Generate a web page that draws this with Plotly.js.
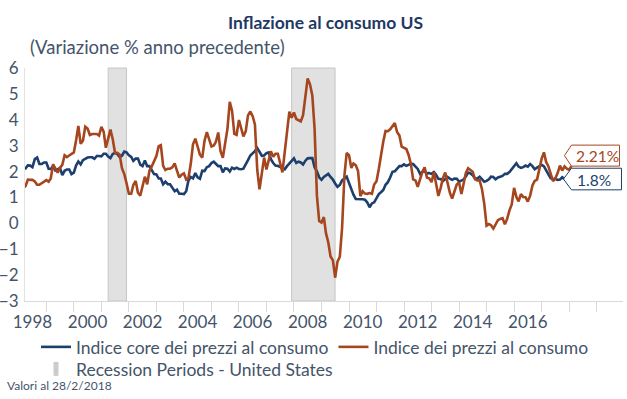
<!DOCTYPE html>
<html>
<head>
<meta charset="utf-8">
<script src="https://cdn.plot.ly/plotly-3.0.1.min.js"></script>
<style>html,body{margin:0;padding:0;background:#fff;}#chart{width:627px;height:399px;}</style>
</head>
<body>
<div id="chart"></div>
<script>
// Monthly data, Jan 1998 - Feb 2018 (YoY %)
const startYear = 1998, startMonth = 1;
const coreCPI = [
 2.24,2.30,2.12,2.12,2.24,2.23,2.17,2.48,2.54,2.29,2.29,2.35,
 2.35,2.11,2.10,2.22,2.04,2.09,2.14,1.86,2.03,2.08,2.08,1.90,
 1.96,2.24,2.39,2.28,2.44,2.49,2.54,2.55,2.55,2.49,2.60,2.60,
 2.59,2.69,2.69,2.58,2.52,2.68,2.72,2.67,2.56,2.61,2.77,2.74,
 2.63,2.57,2.41,2.50,2.50,2.27,2.21,2.43,2.21,2.21,2.05,1.90,
 1.89,1.73,1.73,1.51,1.61,1.51,1.51,1.35,1.24,1.30,1.14,1.14,
 1.13,1.24,1.65,1.79,1.74,1.94,1.78,1.72,2.03,2.02,2.17,2.21,
 2.33,2.38,2.31,2.21,2.21,1.97,2.12,2.11,2.00,2.15,2.10,2.15,
 2.10,2.09,2.11,2.31,2.44,2.62,2.70,2.79,2.91,2.74,2.61,2.62,
 2.71,2.74,2.48,2.33,2.23,2.22,2.18,2.12,2.09,2.21,2.30,2.42,
 2.51,2.33,2.38,2.35,2.27,2.42,2.51,2.52,2.52,2.17,2.01,1.78,
 1.68,1.79,1.84,1.91,1.79,1.69,1.54,1.41,1.48,1.66,1.73,1.80,
 1.56,1.31,1.11,0.94,0.94,0.92,0.93,0.91,0.81,0.62,0.77,0.81,
 0.97,1.13,1.20,1.29,1.49,1.59,1.77,1.99,2.01,2.10,2.21,2.21,
 2.28,2.22,2.27,2.30,2.29,2.19,2.10,1.91,1.99,2.01,1.93,1.94,
 1.91,1.98,1.88,1.72,1.71,1.63,1.70,1.79,1.73,1.68,1.73,1.72,
 1.61,1.64,1.69,1.81,1.96,1.93,1.86,1.73,1.73,1.80,1.71,1.61,
 1.64,1.70,1.80,1.79,1.70,1.77,1.80,1.83,1.91,1.91,1.98,2.09,
 2.21,2.32,2.19,2.14,2.17,2.23,2.19,2.29,2.21,2.09,2.15,2.21,
 2.26,2.20,2.03,1.89,1.74,1.71,1.72,1.68,1.69,1.78,1.71,1.78,
 1.77,1.80
];
const headlineCPI = [
 1.57,1.44,1.37,1.44,1.69,1.68,1.68,1.62,1.49,1.49,1.55,1.61,
 1.67,1.61,1.73,2.28,2.09,1.96,2.14,2.26,2.63,2.56,2.62,2.68,
 2.74,3.22,3.76,3.07,3.19,3.73,3.66,3.41,3.45,3.45,3.45,3.39,
 3.73,3.53,2.92,3.27,3.62,3.25,2.72,2.72,2.65,2.13,1.90,1.55,
 1.14,1.14,1.48,1.64,1.18,1.07,1.46,1.80,1.51,2.03,2.20,2.38,
 2.60,2.98,3.02,2.22,2.06,2.11,2.11,2.16,2.32,2.04,1.77,1.88,
 1.93,1.69,1.74,2.29,3.05,3.27,2.99,2.65,2.54,3.19,3.52,3.26,
 2.97,3.01,3.15,3.51,2.80,2.53,3.17,3.64,4.69,4.35,3.46,3.42,
 3.99,3.60,3.36,3.55,4.17,4.32,4.15,3.82,2.06,1.31,1.97,2.54,
 2.08,2.42,2.78,2.57,2.69,2.69,2.36,1.97,2.76,3.54,4.31,4.08,
 4.28,4.03,3.98,3.94,4.18,5.02,5.60,5.37,4.94,3.66,1.07,0.09,
 0.03,0.24,-0.38,-0.74,-1.28,-1.43,-2.10,-1.48,-1.29,-0.18,1.84,2.72,
 2.63,2.14,2.31,2.24,2.02,1.05,1.24,1.15,1.14,1.17,1.14,1.50,
 1.63,2.11,2.68,3.16,3.57,3.56,3.63,3.77,3.87,3.53,3.39,2.96,
 2.93,2.87,2.65,2.30,1.70,1.66,1.41,1.69,1.99,2.16,1.76,1.74,
 1.59,1.98,1.47,1.06,1.36,1.75,1.96,1.52,1.18,0.96,1.24,1.50,
 1.58,1.13,1.51,1.95,2.13,2.07,1.99,1.70,1.66,1.66,1.32,0.76,
 -0.09,-0.03,-0.07,-0.20,-0.04,0.12,0.17,0.20,-0.04,0.17,0.50,0.73,
 1.37,1.02,0.85,1.13,1.02,1.01,0.84,1.06,1.46,1.64,1.69,2.07,
 2.50,2.74,2.38,2.20,1.87,1.63,1.73,1.94,2.23,2.04,2.20,2.11,
 2.07,2.21
];
const recessionStart = ['2001-04-01', '2007-12-01'];
const recessionEnd   = ['2001-11-30', '2009-06-30'];
const yearLabels = ['1998','2000','2002','2004','2006','2008','2010','2012','2014','2016'];
const seriesNames = ['Indice core dei prezzi al consumo', 'Indice dei prezzi al consumo', 'Recession Periods - United States'];
const lastLabels = ['2.21%', '1.8%'];

const pad = n => (n < 10 ? '0' : '') + n;
const dates = coreCPI.map((_, i) => {
  const m = startMonth - 1 + i;
  return (startYear + Math.floor(m / 12)) + '-' + pad(m % 12 + 1) + '-01';
});
const lastDate = dates[dates.length - 1];
const lastCore = coreCPI[coreCPI.length - 1];
const lastHead = headlineCPI[headlineCPI.length - 1];

const NAVY = '#1c3f6e', RUST = '#a5461f', TXT = '#44546a';
const FONT = 'Lato, "Open Sans", sans-serif';

// plot-area geometry helpers (for text placement outside the axes)
const L = 25, R = 4, T = 68, B = 98, W = 627, H = 399;
const pw = W - L - R, ph = H - T - B;
const px2x = p => (p - L) / pw;
const px2y = p => (H - B - p) / ph;

const traces = [
  {x: dates, y: coreCPI, type: 'scatter', mode: 'lines', name: seriesNames[0],
   line: {color: NAVY, width: 2.6}},
  {x: dates, y: headlineCPI, type: 'scatter', mode: 'lines', name: seriesNames[1],
   line: {color: RUST, width: 2.6}},
  {x: [null], y: [null], type: 'scatter', mode: 'markers', name: seriesNames[2],
   legend: 'legend2',
   marker: {symbol: 'line-ns', size: 10, color: '#cccccc', line: {color: '#cccccc', width: 5}}}
];

const shapes = recessionStart.map((s, i) => ({
  type: 'rect', xref: 'x', yref: 'paper', x0: s, x1: recessionEnd[i], y0: 0, y1: 1,
  fillcolor: '#e1e1e1', line: {color: '#c6c6c6', width: 1}, layer: 'below'
}));
shapes.push({
  type: 'path', xref: 'x', yref: 'y', xsizemode: 'pixel', ysizemode: 'pixel',
  xanchor: lastDate, yanchor: lastHead,
  path: 'M -7 10.5 L 0 21 L 48 21 L 48 0 L 0 0 Z',
  fillcolor: 'white', line: {color: RUST, width: 1}
});
shapes.push({
  type: 'path', xref: 'x', yref: 'y', xsizemode: 'pixel', ysizemode: 'pixel',
  xanchor: lastDate, yanchor: lastCore,
  path: 'M -8 -2.3 L 0 8.5 L 50 8.5 L 50 -13.1 L 0 -13.1 Z',
  fillcolor: 'white', line: {color: NAVY, width: 1}
});

const annotations = [
  {text: '(Variazione % anno precedente)', xref: 'paper', yref: 'paper',
   x: px2x(28), y: px2y(46.5), xanchor: 'left', yanchor: 'middle', showarrow: false,
   font: {family: FONT, size: 18.5, color: TXT}},
  {text: 'Valori al 28/2/2018', xref: 'paper', yref: 'paper',
   x: px2x(5), y: px2y(385), xanchor: 'left', yanchor: 'middle', showarrow: false,
   font: {family: FONT, size: 12, color: TXT}},
  {text: lastLabels[0], xref: 'x', yref: 'y', x: lastDate, y: lastHead,
   xanchor: 'left', yanchor: 'middle', xshift: 3, yshift: 10.5, showarrow: false,
   font: {family: FONT, size: 15.5, color: RUST}},
  {text: lastLabels[1], xref: 'x', yref: 'y', x: lastDate, y: lastCore,
   xanchor: 'left', yanchor: 'middle', xshift: 4, yshift: -3, showarrow: false,
   font: {family: FONT, size: 15.5, color: NAVY}}
];

const layout = {
  width: W, height: H,
  margin: {l: L, r: R, t: T, b: B, pad: 0},
  paper_bgcolor: 'white', plot_bgcolor: 'white',
  font: {family: FONT, color: TXT},
  title: {text: '<b>Inflazione al consumo US</b>', xref: 'container', yref: 'container',
          x: 325.5 / W, y: 1 - 22.5 / H, xanchor: 'center', yanchor: 'middle',
          font: {family: FONT, size: 17.5, color: '#1f3864'}},
  xaxis: {
    type: 'date', range: ['1998-03-24', '2019-12-17'],
    tickmode: 'array', tickvals: yearLabels.map(y => y + '-07-01'), ticktext: yearLabels,
    ticks: '', showline: true, linecolor: '#d9d9d9', linewidth: 1,
    showgrid: false, zeroline: false, ticklabelstandoff: 6,
    tickfont: {family: FONT, size: 17, color: TXT},
    minor: {ticks: 'outside', tickmode: 'linear', tick0: '1999-01-01', dtick: 'M12',
            ticklen: 10, tickcolor: '#d9d9d9', tickwidth: 1, showgrid: false}
  },
  yaxis: {
    range: [-3, 6], dtick: 1, tick0: 0, ticks: '', showline: true, linecolor: '#e3e3e3',
    showgrid: false, zeroline: false, ticklabelstandoff: 2,
    tickfont: {family: FONT, size: 17, color: TXT}
  },
  showlegend: true,
  legend: {orientation: 'h', xref: 'container', yref: 'container',
           x: 36 / W, y: 1 - 347 / H, xanchor: 'left', yanchor: 'middle',
           font: {family: FONT, size: 17.5, color: TXT}, bgcolor: 'rgba(0,0,0,0)',
           itemwidth: 30, tracegroupgap: 0},
  legend2: {orientation: 'h', xref: 'container', yref: 'container',
           x: 36 / W, y: 1 - 369 / H, xanchor: 'left', yanchor: 'middle',
           font: {family: FONT, size: 17.5, color: TXT}, bgcolor: 'rgba(0,0,0,0)'},
  shapes: shapes,
  annotations: annotations
};

Plotly.newPlot('chart', traces, layout, {displayModeBar: false, staticPlot: true});
</script>
</body>
</html>
